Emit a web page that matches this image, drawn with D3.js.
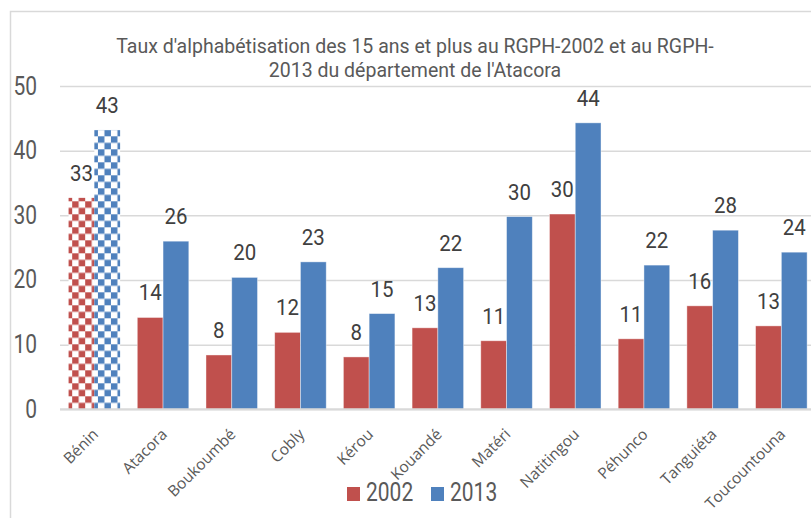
<!DOCTYPE html>
<html>
<head>
<meta charset="utf-8">
<script src="https://cdn.jsdelivr.net/npm/d3@7"></script>
<style>
  body { margin: 0; background: #fff; }
  svg { display: block; }
</style>
</head>
<body>
<div id="chart"></div>
<script>
'use strict'

// data
const categories = ['Bénin', 'Atacora', 'Boukoumbé', 'Cobly', 'Kérou', 'Kouandé', 'Matéri', 'Natitingou', 'Péhunco', 'Tanguiéta', 'Toucountouna']
const series = ['2002', '2013']
const values2002 = [32.7, 14.2, 8.4, 11.9, 8.1, 12.6, 10.6, 30.2, 10.9, 16.0, 12.9]
const values2013 = [43.2, 26.0, 20.4, 22.8, 14.8, 21.9, 29.8, 44.3, 22.3, 27.7, 24.3]
const yTicks = [0, 10, 20, 30, 40, 50]
const titleLines = ["Taux d'alphabétisation des 15 ans et plus au RGPH-2002 et au RGPH-", "2013 du département de l'Atacora"]

////////////////////////////////////
//////////// svg setup /////////////
////////////////////////////////////

const svgWidth = 811
const svgHeight = 518
const colors = { '2002': '#C0504D', '2013': '#4F81BD' }
const font = 'Roboto, "Noto Sans", sans-serif'
const squeeze = 0.84   // the reference text is narrower than Roboto

const svg = d3.select('#chart').append('svg')
    .attr('width', svgWidth)
    .attr('height', svgHeight)
    .attr('font-family', font)

// chart area border (cut by the window on right and bottom)
svg.append('rect')
    .attr('x', 10.5).attr('y', 11.5)
    .attr('width', 900).attr('height', 600)
    .attr('fill', 'none')
    .attr('stroke', '#D9D9D9')
    .attr('stroke-width', 1.5)

const rows = categories.map((c, i) => ({ cat: c, '2002': values2002[i], '2013': values2013[i] }))

////////////////////////////////////
//////////////scales////////////////
////////////////////////////////////

const plot = { left: 60, right: 815.7, top: 86, bottom: 409.3 }

const x0 = d3.scaleBand()
    .domain(categories)
    .range([plot.left, plot.right])
    .paddingInner(0.25)
    .paddingOuter(0.125)

const x1 = d3.scaleBand()
    .domain(series)
    .range([0, x0.bandwidth()])

const y = d3.scaleLinear()
    .domain([0, 50])
    .range([plot.bottom, plot.top])

////////////////////////////////////
///////////// patterns /////////////
////////////////////////////////////

const cell = 6.5
const defs = svg.append('defs')
series.forEach(s => {
    const p = defs.append('pattern')
        .attr('id', 'check-' + s)
        .attr('patternUnits', 'userSpaceOnUse')
        .attr('x', x0(categories[0]) + x1(s))
        .attr('y', plot.bottom)
        .attr('width', cell * 2)
        .attr('height', cell * 2)
    p.append('rect').attr('width', cell * 2).attr('height', cell * 2).attr('fill', '#fff')
    p.append('rect').attr('x', 0).attr('y', 0).attr('width', cell).attr('height', cell).attr('fill', colors[s])
    p.append('rect').attr('x', cell).attr('y', cell).attr('width', cell).attr('height', cell).attr('fill', colors[s])
})

////////////////////////////////////
///////////////axis/////////////////
////////////////////////////////////

// gridlines
svg.append('g')
    .attr('transform', `translate(${plot.left},0)`)
    .call(d3.axisLeft(y).tickValues(yTicks).tickSize(-(svgWidth - plot.left)).tickFormat(''))
    .call(g => g.select('.domain').remove())
    .call(g => g.selectAll('line').attr('stroke', '#D9D9D9').attr('stroke-width', 1.5))

// y tick labels
svg.append('g')
    .attr('transform', 'translate(37,0)')
    .call(d3.axisLeft(y).tickValues(yTicks).tickSize(0).tickPadding(0))
    .call(g => g.select('.domain').remove())
    .call(g => g.selectAll('text')
        .attr('x', 0)
        .attr('font-family', font)
        .attr('font-size', 25)
        .attr('fill', '#595959')
        .attr('transform', `scale(${squeeze},1)`))

////////////////////////////////////
/////////////// DOM ////////////////
////////////////////////////////////

const groups = svg.append('g')
    .selectAll('g')
    .data(rows)
    .join('g')
    .attr('transform', d => `translate(${x0(d.cat)},0)`)

groups.selectAll('rect')
    .data(d => series.map(s => ({ s: s, v: d[s], cat: d.cat })))
    .join('rect')
    .attr('x', d => x1(d.s))
    .attr('y', d => y(d.v))
    .attr('width', x1.bandwidth())
    .attr('height', d => y(0) - y(d.v))
    .attr('fill', d => d.cat === categories[0] ? `url(#check-${d.s})` : colors[d.s])
    .attr('stroke', d => d.cat === categories[0] ? 'none' : '#fff')
    .attr('stroke-opacity', 0.5)
    .attr('stroke-width', 0.8)

groups.selectAll('text')
    .data(d => series.map(s => ({ s: s, v: d[s] })))
    .join('text')
    .attr('transform', d => `translate(${x1(d.s) + x1.bandwidth() / 2},${y(d.v) - 17}) scale(0.93,1)`)
    .attr('text-anchor', 'middle')
    .attr('font-size', 22)
    .attr('fill', '#404040')
    .text(d => d3.format('.0f')(d.v))

// baseline
svg.append('line')
    .attr('x1', plot.left).attr('x2', svgWidth)
    .attr('y1', y(0)).attr('y2', y(0))
    .attr('stroke', '#D9D9D9')
    .attr('stroke-width', 2)

// x axis labels
svg.append('g')
    .attr('transform', `translate(0,${plot.bottom})`)
    .call(d3.axisBottom(x0).tickSize(0))
    .call(g => g.select('.domain').remove())
    .call(g => g.selectAll('text')
        .attr('y', 0)
        .attr('dy', null)
        .attr('text-anchor', 'end')
        .attr('font-family', '"Open Sans", sans-serif')
        .attr('font-size', 15.5)
        .attr('fill', '#595959')
        .attr('transform', 'translate(5,26) rotate(-45)'))

// title
svg.append('text')
    .attr('text-anchor', 'middle')
    .attr('font-size', 19.5)
    .attr('fill', '#595959')
    .selectAll('tspan')
    .data(titleLines)
    .join('tspan')
    .attr('x', 415)
    .attr('y', (d, i) => 53 + i * 24)
    .text(d => d)

// legend
const legend = svg.append('g')
    .attr('transform', 'translate(347,487)')
    .selectAll('g')
    .data(series)
    .join('g')
    .attr('transform', (d, i) => `translate(${i * 84},0)`)

legend.append('rect')
    .attr('width', 13)
    .attr('height', 14)
    .attr('fill', d => colors[d])

legend.append('text')
    .attr('transform', `translate(19,14) scale(${squeeze},1)`)
    .attr('font-size', 25)
    .attr('fill', '#595959')
    .text(d => d)
</script>
</body>
</html>
